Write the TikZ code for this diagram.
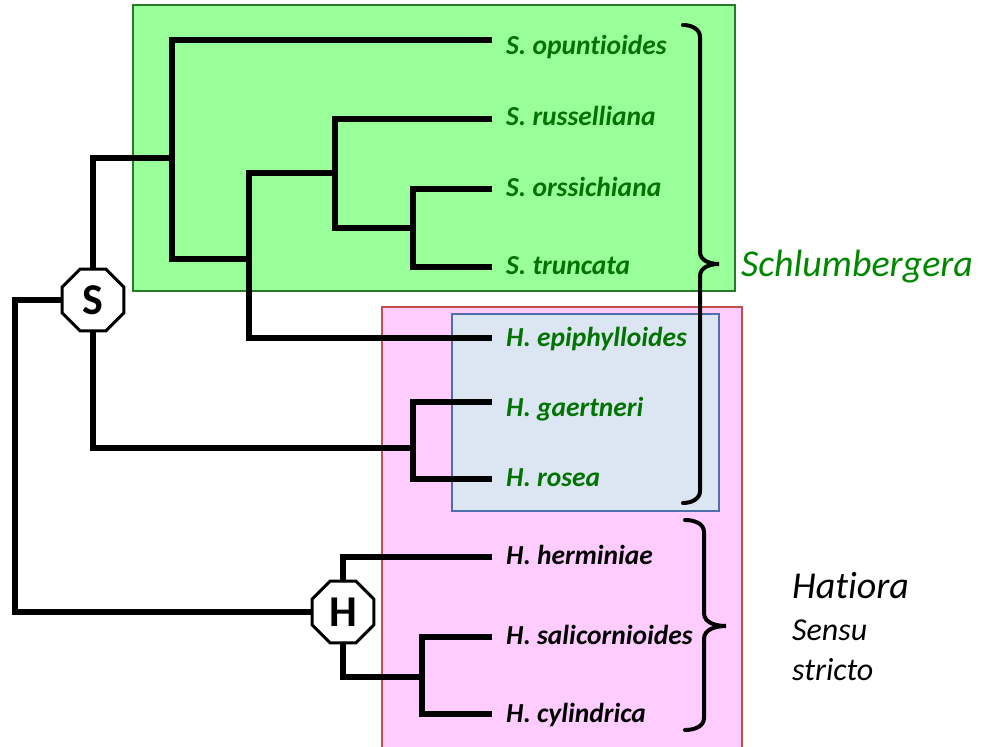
\documentclass[tikz,border=0pt]{standalone}
\usepackage{fontspec}
\setmainfont{Carlito}[Ligatures=NoCommon]
\usetikzlibrary{shapes.geometric}
\definecolor{boxgreen}{RGB}{153,255,153}
\definecolor{boxgreenline}{RGB}{40,120,40}
\definecolor{boxpink}{RGB}{255,204,255}
\definecolor{boxpinkline}{RGB}{192,80,77}
\definecolor{boxblue}{RGB}{220,230,242}
\definecolor{boxblueline}{RGB}{79,110,170}
\definecolor{leafgreen}{RGB}{0,115,0}
\definecolor{genusgreen}{RGB}{0,135,0}
\tikzset{
  branch/.style={line width=6pt, line join=miter, line cap=butt},
  leaf/.style={anchor=base west, inner sep=0pt, font=\fontsize{27.5}{30}\selectfont\bfseries\itshape},
  gleaf/.style={leaf, text=leafgreen},
  bleaf/.style={leaf, text=black},
  octnode/.style={regular polygon, regular polygon sides=8, minimum size=67pt, draw, line width=3pt, fill=white, inner sep=0pt, font=\fontsize{44}{44}\selectfont\bfseries},
  bracket/.style={line width=4pt, line cap=round},
  genus/.style={anchor=base west, inner sep=0pt, font=\fontsize{38}{42}\selectfont\itshape},
  note/.style={anchor=base west, inner sep=0pt, font=\fontsize{32}{36}\selectfont\itshape},
}
\begin{document}
\begin{tikzpicture}[x=1pt,y=-1pt]
\useasboundingbox (0,0) rectangle (981,746);
% boxes
\fill[boxgreen] (133,5) rectangle (735,291);
\draw[boxgreenline, line width=1.8pt] (133,5) rectangle (735,291);
\fill[boxpink] (382,307) rectangle (742,770);
\draw[boxpinkline, line width=1.8pt] (382,307) rectangle (742,770);
\fill[boxblue] (452,314) rectangle (719,511);
\draw[boxblueline, line width=1.8pt] (452,314) rectangle (719,511);

% leaf tips
\coordinate (t1) at (492,40);
\coordinate (t2) at (492,119);
\coordinate (t3) at (492,189);
\coordinate (t4) at (492,267);
\coordinate (t5) at (492,338);
\coordinate (t6) at (492,402);
\coordinate (t7) at (492,479);
\coordinate (t8) at (492,557);
\coordinate (t9) at (492,637);
\coordinate (t10) at (492,714);
% internal points
\coordinate (A) at (172,158);
\coordinate (B) at (249,259);
\coordinate (C) at (335,173);
\coordinate (D) at (413,228);
\coordinate (E) at (413,448);
\coordinate (F) at (422,677);
\coordinate (R) at (15,450);

% octagon nodes
\node[octnode] (S) at (93,300) {S};
\node[octnode] (H) at (343,612) {H};

% tree
\draw[branch] (t3) -| (D) |- (t4);
\draw[branch] (t2) -| (C) |- (D);
\draw[branch] (C) -| (B) |- (t5);
\draw[branch] (t1) -| (A) |- (B);
\draw[branch] (S) |- (A);
\draw[branch] (t6) -| (E) |- (t7);
\draw[branch] (S) |- (E);
\draw[branch] (S.west) -| (R) |- (H.west);
\draw[branch] (H) |- (t8);
\draw[branch] (t9) -| (F) |- (t10);
\draw[branch] (H) |- (F);

% labels
\node[gleaf] (l1) at (506,55) {S. opuntioides};
\node[gleaf] (l2) at (506,126) {S. russelliana};
\node[gleaf] (l3) at (506,196) {S. orssichiana};
\node[gleaf] (l4) at (506,274) {S. truncata};
\node[gleaf] (l5) at (506,346) {H. epiphylloides};
\node[gleaf] (l6) at (506,416) {H. gaertneri};
\node[gleaf] (l7) at (506,486) {H. rosea};
\node[bleaf] (l8) at (506,564) {H. herminiae};
\node[bleaf] (l9) at (506,644) {H. salicornioides};
\node[bleaf] (l10) at (506,722) {H. cylindrica};

% braces
\draw[bracket] (683,25) to[out=0,in=90] (700,37) -- (700,252) to[out=-90,in=180] (719,264) to[out=180,in=90] (700,276) -- (700,491) to[out=-90,in=0] (683,503);
\draw[bracket] (685,520) to[out=0,in=90] (704,532) -- (704,613) to[out=-90,in=180] (726,626) to[out=180,in=90] (704,639) -- (704,718) to[out=-90,in=0] (685,730);

% group names
\node[genus, text=genusgreen] (g1) at (741,276) {Schlumbergera};
\node[genus] (g2) at (792,598) {Hatiora};
\node[note] (g3) at (792,640) {Sensu};
\node[note] (g4) at (792,680) {stricto};
\end{tikzpicture}
\end{document}
